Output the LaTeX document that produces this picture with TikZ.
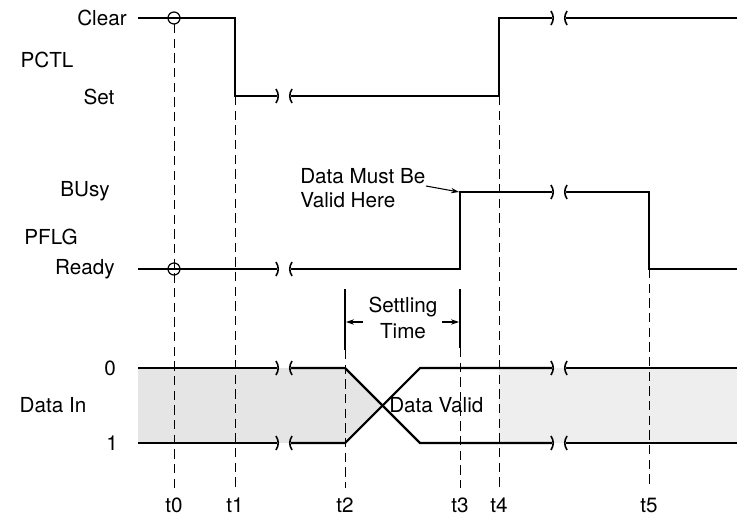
\documentclass[tikz,border=0pt]{standalone}
\usepackage{fontspec}
\setmainfont{TeX Gyre Heros}
\usetikzlibrary{arrows.meta}

% break in a waveform: tick at the end of the left piece, tick at the start of the right one
\newcommand{\gapmark}[2]{%
  \draw[line width=1.2pt] (#1-1,#2-7) .. controls (#1+2,#2-2) and (#1+2,#2+2) .. (#1-1,#2+7);
  \draw[line width=1.2pt] (#1+15,#2-7) .. controls (#1+12,#2-2) and (#1+12,#2+2) .. (#1+15,#2+7);}

\begin{document}
\begin{tikzpicture}[x=0.75pt,y=-0.75pt,>={Stealth[length=6pt,width=4pt]},
  sig/.style={line width=1.6pt},
  tmark/.style={line width=0.5pt,dash pattern=on 7pt off 4pt},
  every node/.style={inner sep=0pt,font=\fontsize{15.5}{18}\selectfont}]
\useasboundingbox (0,0) rectangle (737,520);

% shaded data
\fill[gray!20] (138,368) -- (345,368) -- (382,405) -- (345,443) -- (138,443) -- cycle;
\fill[gray!13] (499,368) rectangle (737,443);

% time marks
\draw[tmark] (174,24) -- (174,488);
\draw[tmark] (235,96) -- (235,488);
\draw[tmark] (345,350) -- (345,488);
\draw[tmark] (460,348) -- (460,488);
\draw[tmark] (499,96) -- (499,488);
\draw[tmark] (649,269) -- (649,488);

% PCTL
\draw[sig] (138,18) -- (235,18) -- (235,96) -- (277,96);
\draw[sig] (291,96) -- (499,96) -- (499,18) -- (552,18);
\draw[sig] (566,18) -- (737,18);
\gapmark{277}{96}
\gapmark{552}{18}
\draw[line width=0.9pt] (174,18) circle (6);

% PFLG
\draw[sig] (138,269) -- (277,269);
\draw[sig] (291,269) -- (460,269) -- (460,192) -- (552,192);
\draw[sig] (566,192) -- (649,192) -- (649,269) -- (737,269);
\gapmark{277}{269}
\gapmark{552}{192}
\draw[line width=0.9pt] (174,269) circle (6);

% Data In
\draw[sig] (138,368) -- (277,368);
\draw[sig] (138,443) -- (277,443);
\draw[sig] (291,368) -- (345,368) -- (420,443) -- (552,443);
\draw[sig] (291,443) -- (345,443) -- (420,368) -- (552,368);
\draw[sig] (566,368) -- (737,368);
\draw[sig] (566,443) -- (737,443);
\gapmark{277}{368}
\gapmark{277}{443}
\gapmark{552}{368}
\gapmark{552}{443}

% settling time
\draw[sig] (345,289) -- (345,350);
\draw[sig] (460,289) -- (460,348);
\node (settle) at (403,318) [align=center] {Settling\\[2pt]Time};
\draw[->,thick] (363,322) -- (346,322);
\draw[->,thick] (442,322) -- (459,322);

% labels
\node (clear) at (102,18) {Clear};
\node (pctl) at (47,60) {PCTL};
\node (set) at (99,97) {Set};
\node (busy) at (85,191) {BUsy};
\node (pflg) at (51,237) {PFLG};
\node (ready) at (85,269) {Ready};
\node (zero) at (110,368) {0};
\node (datain) at (53,405) {Data In};
\node (one) at (112,443) {1};
\node (valid) at (389,405) [anchor=west] {Data Valid};
\node (must) at (300,188) [anchor=west,align=left] {Data Must Be\\Valid Here};
\coordinate (rise) at (459,192);
\draw[->,thick] (426,186) -- (rise);

\foreach \x/\t in {174/t0,235/t1,345/t2,460/t3,499/t4,649/t5}
  \node (\t) at (\x,505) {\t};
\end{tikzpicture}
\end{document}
